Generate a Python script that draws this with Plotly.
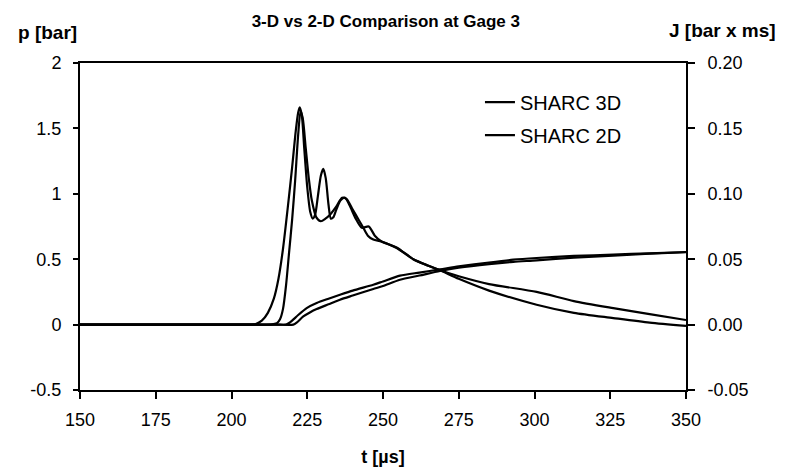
import plotly.graph_objects as go

# Pressure histories p [bar] at gage 3
t_3d = [150, 180, 200, 205, 208, 210, 212, 214, 215.5, 217, 218.5, 220, 221.2, 222, 222.5,
        223.2, 224, 225, 226, 226.8, 227.6, 228.5, 229.5, 230.3, 231.1, 232, 232.8, 233.6,
        234.6, 236, 237.5, 239, 241, 243, 245.3, 247.3, 249.5, 254.5, 260, 265, 268.8, 275,
        285, 300.7, 313, 326, 338, 350]
p_3d = [0, 0, 0, 0, 0.005, 0.03, 0.09, 0.2, 0.35, 0.58, 0.88, 1.2, 1.48, 1.62, 1.66,
        1.6, 1.35, 1.05, 0.86, 0.81, 0.84, 0.98, 1.14, 1.19, 1.12, 0.92, 0.81, 0.82,
        0.88, 0.95, 0.97, 0.91, 0.81, 0.74, 0.75, 0.68, 0.635, 0.59, 0.5, 0.45, 0.415, 0.37,
        0.31, 0.25, 0.18, 0.126, 0.08, 0.035]

t_2d = [150, 180, 205, 213, 215, 216, 217, 218, 219, 220, 221, 222, 222.8, 223.5, 224.5,
        225.5, 226.5, 228, 229.5, 231, 232.5, 234.5, 236.5, 238, 240, 242, 243.5, 245, 246.8,
        249.5, 254.5, 260, 265, 268.8, 275, 285, 300.7, 313, 326, 338, 350]
p_2d = [0, 0, 0, 0, 0.01, 0.04, 0.12, 0.3, 0.55, 0.8, 1.1, 1.45, 1.63, 1.58, 1.35,
        1.12, 0.95, 0.82, 0.79, 0.81, 0.84, 0.9, 0.97, 0.96, 0.88, 0.8, 0.74, 0.68, 0.65,
        0.635, 0.585, 0.5, 0.45, 0.415, 0.35, 0.26, 0.152, 0.09, 0.05, 0.015, -0.01]

# Impulse histories J [bar x ms]
tj_3d = [150, 180, 205, 215, 218, 219, 220, 222.1, 224.8, 228.1, 232, 235.8, 240, 246.8,
         250, 255.6, 262, 268.8, 275, 285, 293, 300.7, 313, 326, 338, 350]
j_3d = [0, 0, 0, 0, 0, 0.0012, 0.003, 0.0075, 0.0126, 0.0165, 0.0198, 0.0228, 0.026, 0.0305,
        0.033, 0.0374, 0.0398, 0.0422, 0.0445, 0.0475, 0.0496, 0.0509, 0.0525, 0.0535, 0.0545,
        0.0555]

tj_2d = [150, 180, 205, 215, 220.4, 221.5, 223.7, 226, 228.1, 232, 235.8, 240, 246.8, 250,
         255.6, 262, 268.8, 275, 285, 293, 300.7, 313, 326, 338, 350]
j_2d = [0, 0, 0, 0, 0, 0.0015, 0.0062, 0.0095, 0.0119, 0.0155, 0.019, 0.0222, 0.0272, 0.0295,
        0.0343, 0.0375, 0.041, 0.0435, 0.0463, 0.048, 0.0491, 0.0512, 0.0527, 0.0542, 0.0553]

x_ticks = [150, 175, 200, 225, 250, 275, 300, 325, 350]
p_ticks = [-0.5, 0, 0.5, 1, 1.5, 2]
p_labels = ["-0.5", "0", "0.5", "1", "1.5", "2"]
j_ticks = [-0.05, 0.0, 0.05, 0.10, 0.15, 0.20]
j_labels = ["-0.05", "0.00", "0.05", "0.10", "0.15", "0.20"]

FONT = "Arial, 'Liberation Sans', sans-serif"
line = dict(color="black", width=2.2, shape="spline", smoothing=0.7)

fig = go.Figure()
fig.add_trace(go.Scatter(x=t_3d, y=p_3d, mode="lines", name="SHARC 3D", line=line,
                         legendgroup="a"))
fig.add_trace(go.Scatter(x=t_2d, y=p_2d, mode="lines", name="SHARC 2D", line=line,
                         legendgroup="b"))
fig.add_trace(go.Scatter(x=tj_3d, y=j_3d, mode="lines", name="J 3D", line=line,
                         yaxis="y2", showlegend=False))
fig.add_trace(go.Scatter(x=tj_2d, y=j_2d, mode="lines", name="J 2D", line=line,
                         yaxis="y2", showlegend=False))

fig.update_layout(
    width=789, height=476,
    margin=dict(l=80, r=103, t=63, b=86),
    paper_bgcolor="white", plot_bgcolor="white",
    font=dict(family=FONT, size=18, color="black"),
    title=dict(text="<b>3-D vs 2-D Comparison at Gage 3</b>", x=0.489, xanchor="center",
               y=0.956, yanchor="middle", font=dict(size=17)),
    showlegend=True,
    legend=dict(x=0.66, y=0.94, xanchor="left", yanchor="top", bgcolor="rgba(0,0,0,0)",
                font=dict(size=20), tracegroupgap=4, traceorder="grouped"),
    xaxis=dict(range=[150, 350], tickvals=x_ticks, ticks="outside", ticklen=7,
               tickwidth=1.5, tickcolor="black", showline=True, linecolor="black",
               linewidth=2, mirror=True, showgrid=False, zeroline=False,
               ticklabelstandoff=5,
               title=dict(text="<b>t [µs]</b>", standoff=22, font=dict(size=18))),
    yaxis=dict(range=[-0.5, 2], tickvals=p_ticks, ticktext=p_labels, ticks="outside",
               ticklen=5, tickwidth=1.5, tickcolor="black", showline=True,
               linecolor="black", linewidth=2, showgrid=False, zeroline=False,
               ticklabelstandoff=8),
    yaxis2=dict(range=[-0.05, 0.2], tickvals=j_ticks, ticktext=j_labels, overlaying="y",
                side="right", ticks="outside", ticklen=7, tickwidth=1.5, tickcolor="black",
                showline=True, linecolor="black", linewidth=2, showgrid=False,
                zeroline=False, ticklabelstandoff=9),
)

# Axis captions above the two vertical axes
fig.add_annotation(text="<b>p [bar]</b>", xref="paper", yref="paper", x=-0.053, y=1.093,
                   xanchor="center", yanchor="middle", showarrow=False, font=dict(size=19))
fig.add_annotation(text="<b>J [bar x ms]</b>", xref="paper", yref="paper", x=1.06, y=1.1,
                   xanchor="center", yanchor="middle", showarrow=False, font=dict(size=19))

fig.write_html("out.html")
